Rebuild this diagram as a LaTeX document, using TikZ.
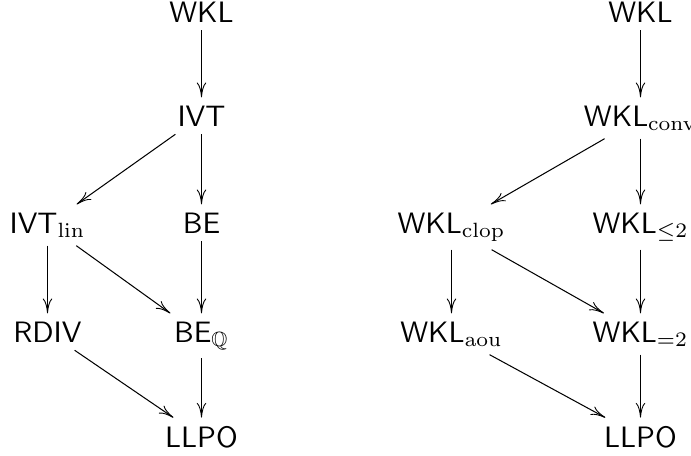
\documentclass[tikz,border=0pt]{standalone}
\usepackage{amssymb}
\usetikzlibrary{arrows.meta}
\begin{document}
\begin{tikzpicture}[x=0.339pt,y=-0.339pt,
  lbl/.style={font=\sffamily, inner sep=2.6pt, anchor=base},
  arr/.style={-{Computer Modern Rightarrow[length=5pt,width=3.2pt,line width=0.3pt]}, line width=0.35pt}]
\useasboundingbox (0,0) rectangle (691,456);
% left diagram
\node[lbl] (lwkl)  at (201.5,22)  {WKL};
\node[lbl] (livt)  at (201.5,126) {IVT};
\node[lbl] (livtl) at (47.5,233) {$\textsf{IVT}_{\mathrm{lin}}$};
\node[lbl] (lbe)   at (201.5,233) {BE};
\node[lbl] (lrdiv) at (47.5,342) {RDIV};
\node[lbl] (lbeq)  at (201.5,342) {$\textsf{BE}_{\mathbb{Q}}$};
\node[lbl] (lllpo) at (201.5,447) {LLPO};
\draw[arr] (lwkl) -- (livt);
\draw[arr] (livt) -- (livtl);
\draw[arr] (livt) -- (lbe);
\draw[arr] (livtl) -- (lrdiv);
\draw[arr] (livtl) -- (lbeq);
\draw[arr] (lbe) -- (lbeq);
\draw[arr] (lrdiv) -- (lllpo);
\draw[arr] (lbeq) -- (lllpo);
% right diagram
\node[lbl] (rwkl)  at (640.5,22)  {WKL};
\node[lbl] (rconv) at (640.5,126) {$\textsf{WKL}_{\mathrm{conv}}$};
\node[lbl] (rclop) at (451.5,233) {$\textsf{WKL}_{\mathrm{clop}}$};
\node[lbl] (rle)   at (640.5,233) {$\textsf{WKL}_{\leq 2}$};
\node[lbl] (raou)  at (451.5,342) {$\textsf{WKL}_{\mathrm{aou}}$};
\node[lbl] (req)   at (640.5,342) {$\textsf{WKL}_{=2}$};
\node[lbl] (rllpo) at (640.5,447) {LLPO};
\draw[arr] (rwkl) -- (rconv);
\draw[arr] (rconv) -- (rclop);
\draw[arr] (rconv) -- (rle);
\draw[arr] (rclop) -- (raou);
\draw[arr] (rclop) -- (req);
\draw[arr] (rle) -- (req);
\draw[arr] (raou) -- (rllpo);
\draw[arr] (req) -- (rllpo);
\end{tikzpicture}
\end{document}
